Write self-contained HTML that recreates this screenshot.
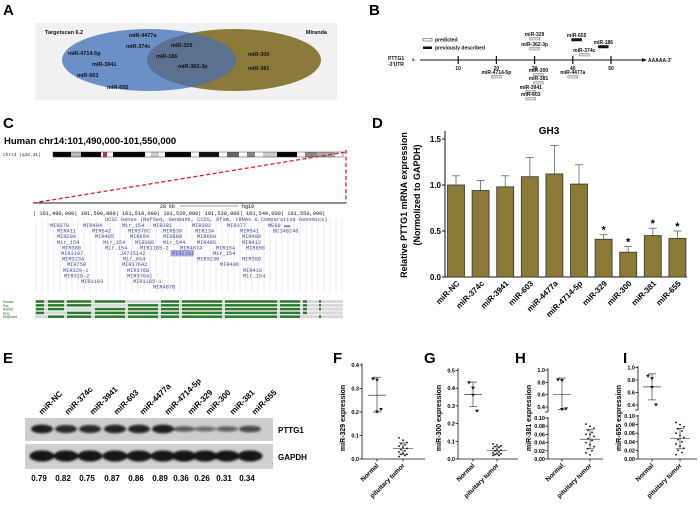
<!DOCTYPE html>
<html><head><meta charset="utf-8">
<style>
html,body{margin:0;padding:0;background:#fff;}
svg{display:block;font-family:"Liberation Sans",Arial,sans-serif;}
.lt{font-weight:bold;font-size:15px;}
.mono{font-family:"Liberation Mono",monospace;font-size:5.3px;fill:#4a4aa0;}
</style></head>
<body>
<svg id="fig" width="700" height="518" viewBox="0 0 700 518" xmlns="http://www.w3.org/2000/svg">
<defs><filter id="blur" x="-20%" y="-50%" width="140%" height="200%"><feGaussianBlur stdDeviation="1"/></filter></defs>
<g>
<text class="lt" x="3" y="15">A</text>
<text class="lt" x="369" y="15">B</text>
<text class="lt" x="3" y="128">C</text>
<text class="lt" x="372" y="128">D</text>
<text class="lt" x="3" y="363">E</text>
<text class="lt" x="333" y="363">F</text>
<text class="lt" x="424" y="363">G</text>
<text class="lt" x="515" y="363">H</text>
<text class="lt" x="623" y="363">I</text>
</g>

<g font-size="5.5" font-weight="bold" fill="#111">
<rect x="35" y="23" width="302" height="77" fill="#f1f1f1"/>
<defs><clipPath id="blueclip"><ellipse cx="149" cy="60" rx="87" ry="31"/></clipPath></defs>
<ellipse cx="149" cy="60" rx="87" ry="31" fill="#6b90c6"/>
<ellipse cx="234" cy="60" rx="87" ry="31" fill="#8a7b3c"/>
<ellipse cx="234" cy="60" rx="87" ry="31" fill="#5a7190" clip-path="url(#blueclip)"/>
<text x="45" y="34">Targetscan 6.2</text>
<text x="327" y="34" text-anchor="end">Miranda</text>
<text x="129" y="37">miR-4477a</text>
<text x="126" y="48">miR-374c</text>
<text x="68" y="55">miR-4714-5p</text>
<text x="92" y="66">miR-3941</text>
<text x="77" y="77">miR-603</text>
<text x="107" y="89">miR-655</text>
<text x="171" y="47">miR-329</text>
<text x="156" y="58">miR-186</text>
<text x="178" y="68">miR-362-3p</text>
<text x="248" y="56">miR-300</text>
<text x="248" y="70">miR-381</text>
</g>

<g id="panelB" font-size="5" font-weight="bold" fill="#111">
<rect x="423" y="38.5" width="9" height="2.5" fill="#fff" stroke="#555" stroke-width="0.6"/>
<text x="435" y="41.5">predicted</text>
<rect x="423" y="46.5" width="9" height="2.5" fill="#111"/>
<text x="435" y="49.5">previously described</text>
<text x="388" y="60">PTTG1</text>
<text x="388" y="66">-3'UTR</text>
<text x="412" y="61" font-size="4">5-</text>
<line x1="420" y1="60" x2="642" y2="60" stroke="#111" stroke-width="1"/>
<polygon points="642,58 647,60 642,62" fill="#111"/>
<text x="648" y="62">AAAAA-3'</text>
</g>

<g id="panelC">
<text x="4" y="144" font-size="9.5" font-weight="bold">Human chr14:101,490,000-101,550,000</text>
<text x="3" y="156" font-size="4.5" font-family="Liberation Mono,monospace" fill="#222">chr14 (q32.31)</text>
<g id="ideo"></g>
<line x1="33" y1="203" x2="346" y2="203" stroke="#222" stroke-width="1"/>
<line x1="33" y1="203" x2="346" y2="152" stroke="#e02020" stroke-width="1.3" stroke-dasharray="4,2.5"/>
<line x1="346" y1="150" x2="346" y2="203" stroke="#e02020" stroke-width="1.3" stroke-dasharray="4,2.5"/>
<text x="160" y="208" font-size="5" font-family="Liberation Mono,monospace">20 kb</text>
<line x1="180" y1="206" x2="238" y2="206" stroke="#333" stroke-width="0.6"/>
<text x="242" y="208" font-size="5" font-family="Liberation Mono,monospace">hg19</text>
<text x="33" y="215" font-size="5.3" font-family="Liberation Mono,monospace" fill="#111">| 101,490,000| 101,500,000| 101,510,000| 101,520,000| 101,530,000| 101,540,000| 101,550,000|</text>
<g id="vlines"></g>
<g id="genes"></g>
<g id="cons"></g>
</g>

<g id="panelD"></g>
<g id="panelE"></g>
<g id="scatter"></g>
</svg>

<script>
// ---- Panel D data ----
const dCategories = ["miR-NC","miR-374c","miR-3941","miR-603","miR-4477a","miR-4714-5p","miR-329","miR-300","miR-381","miR-655"];
const dValues = [1.00,0.94,0.98,1.09,1.12,1.01,0.41,0.27,0.45,0.42];
const dErrors = [0.10,0.11,0.12,0.21,0.31,0.21,0.05,0.06,0.08,0.08];
const dSignificant = [false,false,false,false,false,false,true,true,true,true];
const dTicks = [0.0,0.5,1.0,1.5];

// ---- Panel E data ----
const eLanes = ["miR-NC","miR-374c","miR-3941","miR-603","miR-4477a","miR-4714-5p","miR-329","miR-300","miR-381","miR-655"];
const eRatios = ["0.79","0.82","0.75","0.87","0.86","0.89","0.36","0.26","0.31","0.34"];
const ePttg1 = [0.95,0.85,0.85,0.9,0.9,0.95,0.45,0.3,0.4,0.6];

// ---- Panel B data ----
const bSites = ["miR-329","miR-362-3p","miR-4714-5p","miR-300","miR-381","miR-3941","miR-603","miR-4477a","miR-655","miR-186","miR-374c"];
const bPositions = [30,30,20,31,31,29,29,40,41,48,43];
const bKnown = [false,false,false,false,false,false,false,false,true,true,false];
const bTicks = [10,20,30,40,50];

// ---- Panels F-I data ----
const fNormal = [0.34,0.335,0.2,0.21];
const fTumor = [0.09,0.08,0.07,0.065,0.06,0.055,0.05,0.045,0.04,0.035,0.03,0.025,0.02,0.02,0.015,0.01];
const gNormal = [0.43,0.4,0.36,0.27];
const gTumor = [0.085,0.08,0.075,0.07,0.065,0.06,0.055,0.05,0.045,0.04,0.035,0.03,0.03,0.025,0.02,0.02];
const hNormal = [0.84,0.83,0.36,0.37];
const hTumor = [0.085,0.08,0.075,0.07,0.065,0.06,0.06,0.055,0.05,0.045,0.04,0.035,0.03,0.025,0.02,0.015,0.01];
const iNormal = [0.86,0.82,0.68,0.4];
const iTumor = [0.085,0.08,0.075,0.07,0.065,0.06,0.055,0.05,0.045,0.04,0.035,0.03,0.025,0.02,0.015,0.01];
const scatterGroups = ["Normal","pituitary tumor"];

const NS="http://www.w3.org/2000/svg";
function mk(parent, tag, attrs, txt){
  const el=document.createElementNS(NS,tag);
  for(const k in attrs) el.setAttribute(k,attrs[k]);
  if(txt!==undefined) el.textContent=txt;
  parent.appendChild(el);
  return el;
}
const mean=a=>a.reduce((s,v)=>s+v,0)/a.length;
const sd=a=>{const m=mean(a);return Math.sqrt(a.reduce((s,v)=>s+(v-m)*(v-m),0)/(a.length-1));};

// ===== Panel B =====
(function(){
  const g=document.getElementById('panelB');
  const bx=v=>420+v*3.82;
  bTicks.forEach(t=>{
    const l=mk(g,'line',{x1:bx(t),x2:bx(t),y1:56,y2:64,stroke:'#111','stroke-width':1.2});
    
    
    mk(g,'text',{x:bx(t),y:70,'text-anchor':'middle'},String(t));
  });
  const ys=[36,46,74,72,80,89,96,74,37,44,52];
  bSites.forEach((s,i)=>{
    const x=bx(bPositions[i]);
    const t=mk(g,'text',{x:x,y:ys[i],'text-anchor':'middle'},s);
    
    
    const r=mk(g,'rect',{x:x-5,y:ys[i]+1.5,width:10,height:2.5,fill:bKnown[i]?'#111':'#ddd',stroke:bKnown[i]?'#111':'#777','stroke-width':0.5});
    
    
  });
})();

// ===== Panel C =====
(function(){
  const ideo=document.getElementById('ideo');
  const pat=[['#000',18],['#bbb',10],['#000',20],['#fff',2],['#c33',4],['#fff',6],['#000',10],['#000',22],['#fff',6],['#ccc',8],['#fff',6],['#000',26],['#fff',8],['#111',20],['#fff',8],['#666',12],['#fff',8],['#888',8],['#fff',8],['#ccc',14],['#000',20],['#fff',8],['#888',12],['#aaa',18],['#fff',8]];
  let x=53;
  pat.forEach(p=>{mk(ideo,'rect',{x:x,y:152,width:p[1],height:5,fill:p[0]});x+=p[1];});
  mk(ideo,'rect',{x:53,y:152,width:x-53,height:5,fill:'none',stroke:'#333','stroke-width':0.5});
  const vl=document.getElementById('vlines');
  for(let i=0;i<52;i++){ mk(vl,'line',{x1:36+i*6,x2:36+i*6,y1:218,y2:293,stroke:'#d4d8ea','stroke-width':0.5}); }
  const gn=document.getElementById('genes');
  mk(gn,'text',{x:105,y:221,class:'mono'},'UCSC Genes (RefSeq, GenBank, CCDS, Rfam, tRNAs & Comparative Genomics)');
  const rows=[
   [[50,'MIR379'],[83,'MIR494'],[122,'Mir_154'],[153,'MIR381'],[192,'MIR382'],[227,'MIR377'],[268,'MEG9 ▬▬']],
   [[57,'MIR411'],[92,'MIR543'],[128,'MIR376C'],[163,'MIR539'],[195,'MIR134'],[240,'MIR541'],[273,'BC148248']],
   [[57,'MIR299'],[95,'MIR495'],[130,'MIR654'],[163,'MIR889'],[197,'MIR660'],[242,'MIR409']],
   [[57,'Mir_154'],[103,'Mir_154'],[135,'MIR380'],[163,'Mir_544'],[197,'MIR485'],[242,'MIR412']],
   [[62,'MIR380'],[105,'Mir_154'],[140,'MIR1185-2'],[180,'MIR487A'],[216,'MIR154'],[246,'MIR656']],
   [[61,'MIR1197'],[120,'JA715142'],[172,'MIR2392'],[213,'Mir_154']],
   [[62,'MIR323A'],[123,'Mir_654'],[197,'MIR3230'],[242,'MIR369']],
   [[67,'MIR758'],[122,'MIR376A2'],[220,'MIR496']],
   [[63,'MIR329-1'],[127,'MIR376B'],[243,'MIR410']],
   [[64,'MIR329-2'],[127,'MIR376A1'],[243,'Mir_154']],
   [[81,'MIR1193'],[133,'MIR1185-1']],
   [[153,'MIR487B']]];
  rows.forEach((r,ri)=>{
    const y=227+ri*5.6;
    r.forEach(c=>{
      if(c[1]==='MIR2392') mk(gn,'rect',{x:c[0]-1,y:y-4.5,width:22,height:5.5,fill:'#b8bde8',stroke:'#5555aa','stroke-width':0.4});
      mk(gn,'text',{x:c[0],y:y,class:'mono'},c[1]);
    });
  });
  const cs=document.getElementById('cons');
  const sp=['Mouse','Rat','Rabbit','Dog','Elephant'];
  sp.forEach((s,i)=>{
    const y=300+i*3.8;
    mk(cs,'rect',{x:35,y:y,width:308,height:3,fill:'#d8d8d8'});
    mk(cs,'text',{x:3,y:y+3,'font-size':3.5,fill:'#207020'},s);
    const segs=[[35,10],[47,18],[66,26],[94,32],[127,32],[160,20],[181,42],[224,54],[279,22],[302,6],[318,4]];
    segs.forEach((sg,j)=>{ if((i+j)%9!==4) mk(cs,'rect',{x:sg[0]+1,y:y+0.3,width:sg[1]-2,height:2.4,fill:'#2a7a2a'}); });
  });
})();

// ===== Panel D =====
(function(){
  const g=document.getElementById('panelD');
  const x0=445,y0=277,yTop=139,vmax=1.5;
  const ys=v=>y0-(v/vmax)*(y0-yTop);
  const step=24.6, first=456;
  const xs=i=>first+i*step;
  mk(g,'text',{x:549,y:134,'font-size':10,'font-weight':'bold','text-anchor':'middle'},'GH3');
  mk(g,'line',{x1:x0,x2:x0,y1:yTop-8,y2:y0,stroke:'#111','stroke-width':1});
  mk(g,'line',{x1:x0,x2:687,y1:y0,y2:y0,stroke:'#111','stroke-width':1});
  dTicks.forEach(t=>{
    mk(g,'line',{x1:x0-3,x2:x0,y1:ys(t),y2:ys(t),stroke:'#111'});
    const tl=mk(g,'text',{x:x0-4,y:ys(t)+3,'font-size':8,'font-weight':'bold','text-anchor':'end'},t.toFixed(1));
    
    
  });
  const t1=mk(g,'text',{transform:'translate(407,205) rotate(-90)','font-size':9,'font-weight':'bold','text-anchor':'middle'},'Relative PTTG1 mRNA expression');
  
  
  mk(g,'text',{transform:'translate(420,195) rotate(-90)','font-size':9,'font-weight':'bold','text-anchor':'middle'},'(Normolized to GAPDH)');
  dCategories.forEach((c,i)=>{
    const cx=xs(i), v=dValues[i], e=dErrors[i];
    mk(g,'line',{x1:cx,x2:cx,y1:ys(v),y2:ys(v+e),stroke:'#666','stroke-width':0.8});
    mk(g,'line',{x1:cx-4,x2:cx+4,y1:ys(v+e),y2:ys(v+e),stroke:'#666','stroke-width':0.8});
    const b=mk(g,'rect',{x:cx-8.5,y:ys(v),width:17,height:y0-ys(v),fill:'#8a7a35',stroke:'#333','stroke-width':0.8});
    
    
    if(dSignificant[i]) mk(g,'text',{x:cx,y:ys(v+e)-1,'font-size':11,'font-weight':'bold','text-anchor':'middle'},'*');
    const l=mk(g,'text',{transform:`translate(${cx+4},${y0+7}) rotate(-45)`,'font-size':8,'font-weight':'bold','text-anchor':'end'},c);
    
    
  });
})();

// ===== Panel E =====
(function(){
  const g=document.getElementById('panelE');
  const laneX=[42,66,90,115,139,163,184,205,227,250];
  const labX=[42,68,93,117,143,168,191,209,233,255];
  eLanes.forEach((l,i)=>{
    const t=mk(g,'text',{transform:`translate(${labX[i]},415) rotate(-45)`,'font-size':8,'font-weight':'bold'},l);
    
    
  });
  const p=mk(g,'rect',{x:25,y:418,width:248,height:23,fill:'#cdcdcd'});
  
  
  const q=mk(g,'rect',{x:25,y:444,width:248,height:25,fill:'#cfcfcf'});
  
  
  const bands=mk(g,'g',{filter:'url(#blur)'});
  eLanes.forEach((l,i)=>{
    const a=ePttg1[i];
    mk(bands,'ellipse',{cx:laneX[i],cy:429,rx:11,ry:1.5+3*a,fill:'#111','fill-opacity':0.35+0.6*a});
    mk(bands,'ellipse',{cx:laneX[i],cy:456,rx:12.5,ry:5.5,fill:'#151515'});
    const r=mk(g,'text',{x:laneX[i]-3,y:481,'font-size':8,'font-weight':'bold','text-anchor':'middle'},eRatios[i]);
    
    
  });
  mk(g,'text',{x:278,y:433,'font-size':8,'font-weight':'bold'},'PTTG1');
  mk(g,'text',{x:278,y:460,'font-size':8,'font-weight':'bold'},'GAPDH');
})();

// ===== Panels F-I =====
function scatterPanel(cfg){
  const g=mk(document.getElementById('scatter'),'g',{});
  
  
  const ax=cfg.ax, xN=cfg.xN, xT=cfg.xT;
  const mapY=v=>{
    if(cfg.split && v>cfg.split.cut) return cfg.split.upY0-(v-cfg.split.upV0)*cfg.split.upS;
    return 459-v*cfg.s;
  };
  const ln=(x1,y1,x2,y2,c,w)=>mk(g,'line',{x1,y1,x2,y2,stroke:c||'#111','stroke-width':w||0.8});
  if(cfg.split){
    ln(ax,cfg.split.upTop,ax,cfg.split.upBot);
    ln(ax,cfg.split.loTop,ax,459);
    ln(ax-3,cfg.split.upBot,ax,cfg.split.upBot);
  } else ln(ax,cfg.top,ax,459);
  ln(ax,459,cfg.xEnd,459);
  cfg.ticks.forEach(t=>{
    const y=mapY(t);
    ln(ax-2.5,y,ax,y);
    mk(g,'text',{x:ax-3,y:y+2,'font-size':5.5,'font-weight':'bold','text-anchor':'end'},cfg.fmt(t));
  });
  const yt=mk(g,'text',{transform:`translate(${ax-17},${cfg.titleY}) rotate(-90)`,'font-size':7,'font-weight':'bold','text-anchor':'middle'},cfg.title);
  
  
  [xN,xT].forEach((x,i)=>{
    ln(x,459,x,461.5);
    mk(g,'text',{transform:`translate(${x+2},466) rotate(-45)`,'font-size':6.5,'font-weight':'bold','text-anchor':'end'},scatterGroups[i]);
  });
  const drawGroup=(arr,x,tri)=>{
    const m=mean(arr), s=sd(arr);
    const lo=Math.max(m-s,arr.reduce((a,b)=>Math.min(a,b))), hi=m+s;
    ln(x,mapY(hi),x,mapY(lo),'#444',0.7);
    ln(x-4,mapY(hi),x+4,mapY(hi),'#444',0.7);
    ln(x-4,mapY(lo),x+4,mapY(lo),'#444',0.7);
    ln(x-(tri?9:10),mapY(m),x+(tri?9:10),mapY(m),'#444',0.7);
    arr.forEach((v,i)=>{
      const y=mapY(v);
      if(tri){
        const dx=[-4,0,0,4][i%4];
        const p=mk(g,'polygon',{points:`${x+dx-2},${y-1.5} ${x+dx+2},${y-1.5} ${x+dx},${y+1.5}`,fill:'#111'});
        
        
      } else {
        const dx=[-4,0,4,-2,2][i%5];
        const c=mk(g,'circle',{cx:x+dx,cy:y,r:0.9,fill:'#111'});
        
        
      }
    });
  };
  drawGroup(cfg.normal,xN,true);
  drawGroup(cfg.tumor,xT,false);
}
scatterPanel({name:'panel-f-mir329',ax:362,xN:377,xT:403,xEnd:425,s:235,top:363,ticks:[0,0.1,0.2,0.3,0.4],fmt:t=>t.toFixed(1),title:'miR-329 expression',titleY:418,normal:fNormal,tumor:fTumor});
scatterPanel({name:'panel-g-mir300',ax:458,xN:473,xT:497,xEnd:518,s:177,top:368,ticks:[0,0.1,0.2,0.3,0.4,0.5],fmt:t=>t.toFixed(1),title:'miR-300 expression',titleY:418,normal:gNormal,tumor:gTumor});
scatterPanel({name:'panel-h-mir381',ax:548,xN:562,xT:590,xEnd:603,s:410,ticks:[0,0.02,0.04,0.06,0.08,0.1,0.4,0.6,0.8,1.0],fmt:t=>t>=0.4?t.toFixed(1):t.toFixed(2),title:'miR-381 expression',titleY:418,normal:hNormal,tumor:hTumor,
  split:{cut:0.2,upV0:0.4,upY0:407,upS:61.5,upTop:368,upBot:412,loTop:417}});
scatterPanel({name:'panel-i-mir655',ax:638,xN:652,xT:680,xEnd:697,s:430,ticks:[0,0.02,0.04,0.06,0.08,0.1,0.4,0.6,0.8,1.0],fmt:t=>t>=0.4?t.toFixed(1):t.toFixed(2),title:'miR-655 expression',titleY:418,normal:iNormal,tumor:iTumor,
  split:{cut:0.2,upV0:0.4,upY0:405,upS:62.5,upTop:366,upBot:410,loTop:415}});
</script>
</body></html>
